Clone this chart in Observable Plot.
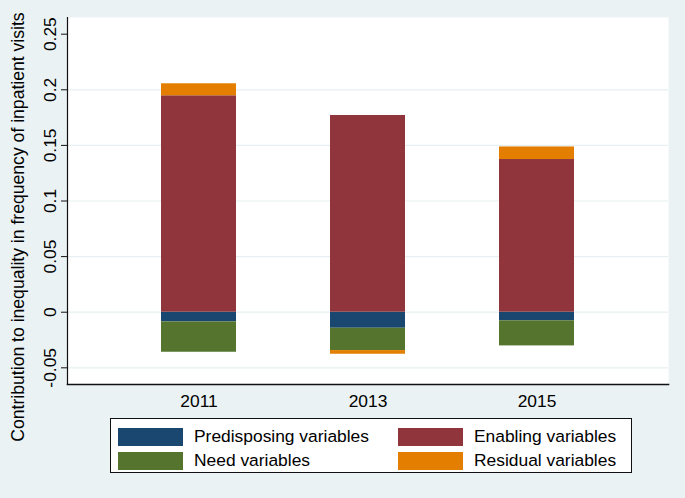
<!DOCTYPE html>
<html>
<head>
<meta charset="utf-8">
<script src="https://cdn.jsdelivr.net/npm/d3@7"></script>
<script src="https://cdn.jsdelivr.net/npm/@observablehq/plot@0.6"></script>
<style>
  html, body { margin: 0; padding: 0; background: #eaf2f3; }
  #wrap { position: relative; width: 685px; height: 498px; background: #eaf2f3; font-family: "Liberation Sans", Arial, sans-serif; overflow: hidden; }
  #legend { position: absolute; left: 110px; top: 418px; width: 522px; height: 55px; background: #fff; border: 1px solid #111; box-sizing: border-box; }
  .item { position: absolute; display: flex; align-items: center; font-size: 17.4px; color: #000; white-space: nowrap; }
  .sw { width: 65px; height: 18px; margin-right: 11px; }
</style>
</head>
<body>
<div id="wrap">
  <div id="chart"></div>
  <div id="legend"></div>
</div>
<script>
const years = ["2011", "2013", "2015"];
const seriesNames = ["Predisposing variables", "Enabling variables", "Need variables", "Residual variables"];
const seriesColors = ["#1a476f", "#90353b", "#55752f", "#e37e00"];
const predisposing = [-0.0087, -0.0144, -0.0077];
const enabling = [0.1946, 0.1769, 0.1373];
const need = [-0.0273, -0.0201, -0.0226];
const residual = [0.0108, -0.0033, 0.0113];
const yTicks = [-0.05, 0, 0.05, 0.1, 0.15, 0.2, 0.25];
const yTickLabels = ["-0.05", "0", "0.05", "0.1", "0.15", "0.2", "0.25"];
const yTitle = "Contribution to inequality in frequency of inpatient visits";

const seriesValues = [predisposing, enabling, need, residual];
const data = [];
years.forEach((yr, i) => {
  seriesNames.forEach((s, j) => data.push({year: yr, series: s, value: seriesValues[j][i]}));
});
const labelOf = new Map(yTicks.map((t, i) => [t, yTickLabels[i]]));

const chart = Plot.plot({
  width: 685,
  height: 410,
  marginLeft: 67,
  marginRight: 17,
  marginTop: 17,
  marginBottom: 26,
  style: {fontFamily: "'Liberation Sans', Arial, sans-serif", fontSize: "17.4px", color: "#000", background: "transparent", overflow: "visible"},
  x: {domain: years, paddingInner: 0.5575, paddingOuter: 0.5487, axis: null},
  y: {domain: [-0.065, 0.265], axis: null},
  color: {domain: seriesNames, range: seriesColors},
  marks: [
    Plot.frame({fill: "white", stroke: null}),
    Plot.gridY(yTicks.filter(t => t < 0.25), {stroke: "#e6eff1", strokeOpacity: 1, strokeWidth: 1.2}),
    Plot.barY(data, {x: "year", y: "value", fill: "series", order: null}),
    Plot.frame({anchor: "left", stroke: "#111", strokeWidth: 1.2}),
    Plot.frame({anchor: "bottom", stroke: "#111", strokeWidth: 1.6}),
    Plot.axisY(yTicks, {tickSize: 6, tickPadding: 6, tickRotate: -90, tickFormat: d => labelOf.get(d), fill: "#000", stroke: "#111", label: null, fontSize: 17.4}),
    Plot.axisX({tickSize: 0, tickPadding: 10, fill: "#000", label: null, fontSize: 17.4}),
    Plot.text([yTitle], {frameAnchor: "left", dx: -49, dy: 26, rotate: -90, text: d => d, fontSize: 17.6, fill: "#000", textAnchor: "middle", lineAnchor: "middle"})
  ]
});
document.getElementById("chart").appendChild(chart);

const legend = document.getElementById("legend");
const legendOrder = [0, 1, 2, 3];
const pos = [[7, 7], [287, 7], [7, 31], [287, 31]];
legendOrder.forEach((k, i) => {
  const d = document.createElement("div");
  d.className = "item";
  d.style.left = pos[i][0] + "px";
  d.style.top = pos[i][1] + "px";
  d.innerHTML = `<div class="sw" style="background:${seriesColors[k]}"></div><span>${seriesNames[k]}</span>`;
  legend.appendChild(d);
});
</script>
</body>
</html>
